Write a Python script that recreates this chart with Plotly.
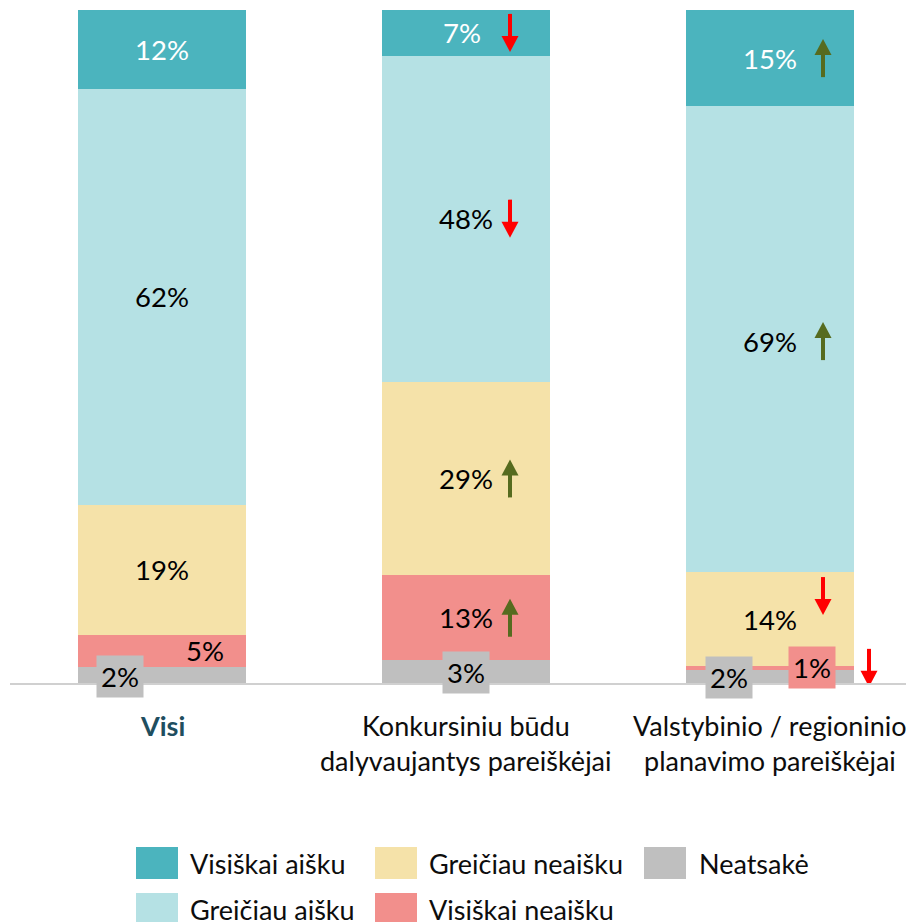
import plotly.graph_objects as go

# ---------------- data ----------------
categories = ["Visi",
              "Konkursiniu būdu\ndalyvaujantys pareiškėjai",
              "Valstybinio / regioninio\nplanavimo pareiškėjai"]

series_names = ["Neatsakė", "Visiškai neaišku", "Greičiau neaišku",
                "Greičiau aišku", "Visiškai aišku"]

neatsake = [2.4, 3.4, 2.0]
visiskai_neaisku = [4.8, 12.6, 0.5]
greiciau_neaisku = [19.3, 28.8, 14.0]
greiciau_aisku = [61.8, 48.4, 69.2]
visiskai_aisku = [11.7, 6.8, 14.3]

neatsake_lbl = ["2%", "3%", "2%"]
visiskai_neaisku_lbl = ["5%", "13%", "1%"]
greiciau_neaisku_lbl = ["19%", "29%", "14%"]
greiciau_aisku_lbl = ["62%", "48%", "69%"]
visiskai_aisku_lbl = ["12%", "7%", "15%"]

# change markers: +1 up (green), -1 down (red), 0 none
neatsake_trend = [0, 0, 0]
visiskai_neaisku_trend = [0, 1, -1]
greiciau_neaisku_trend = [0, 1, -1]
greiciau_aisku_trend = [0, -1, 1]
visiskai_aisku_trend = [0, -1, 1]

# ---------------- style ----------------
colors = ["#BFBFBF", "#F28F8C", "#F5E2A9", "#B5E1E4", "#4BB4BE"]
text_colors = ["#000000", "#000000", "#000000", "#000000", "#FFFFFF"]
UP_COLOR = "#566B1F"
DOWN_COLOR = "#FF0000"
FONT = "Lato"
FS_VAL = 27.5
FS_TXT = 27

values = [neatsake, visiskai_neaisku, greiciau_neaisku, greiciau_aisku, visiskai_aisku]
labels = [neatsake_lbl, visiskai_neaisku_lbl, greiciau_neaisku_lbl,
          greiciau_aisku_lbl, visiskai_aisku_lbl]
trends = [neatsake_trend, visiskai_neaisku_trend, greiciau_neaisku_trend,
          greiciau_aisku_trend, visiskai_aisku_trend]

# label placement tweaks (series idx, cat idx) -> (xshift, yshift, bg)
label_style = {
    (0, 0): (-42, -2, colors[0]),
    (1, 0): (43, 0, None),
    (0, 1): (0, -1, colors[0]),
    (4, 1): (-4, 0, None),
    (0, 2): (-41, -1, colors[0]),
    (1, 2): (42, 0, colors[1]),
    (3, 2): (0, -2, None),
}
arrow_dx = [0, 44, 53]
# (series, cat) -> (arrow xshift, extra yshift relative to label)
arrow_style = {(1, 2): (99, 0), (2, 2): (53, 23)}
ARROW_LEN, HEAD_LEN, HEAD_W, SHAFT_W = 38, 16, 17, 4

OFF = 8  # page body margin
W, H = 914 - OFF, 922 - OFF
ML, MR, MT, MB = 10 - OFF, 0, 10 - OFF, 239
PW = W - ML - MR
PH = H - MT - MB
SLOT = 304.0
Y_MAX = 100.0
PX_PER_Y = PH / Y_MAX

x_idx = list(range(len(categories)))

fig = go.Figure()
for s, name in enumerate(series_names):
    fig.add_trace(go.Bar(
        x=x_idx, y=values[s], name=name, marker=dict(color=colors[s], line=dict(width=0)),
        showlegend=False, hoverinfo="skip"))

annotations = []
shapes = []
for c in x_idx:
    base = 0.0
    for s in range(len(series_names)):
        v = values[s][c]
        mid = base + v / 2.0
        base += v
        dx, dy, bg = label_style.get((s, c), (0, 0, None))
        ann = dict(x=c, y=mid, xref="x", yref="y", text=labels[s][c], showarrow=False,
                   xshift=dx, yshift=dy,
                   font=dict(family=FONT, size=FS_VAL, color=text_colors[s]))
        if bg:
            ann.update(bgcolor=bg, borderpad=4)
        annotations.append(ann)
        t = trends[s][c]
        if t != 0:
            adx, ady = arrow_style.get((s, c), (arrow_dx[c], 0))
            col = UP_COLOR if t > 0 else DOWN_COLOR
            cx = c + adx / SLOT
            cy = mid + (dy + ady) / PX_PER_Y
            tip = cy + t * (ARROW_LEN / 2) / PX_PER_Y
            tail = cy - t * (ARROW_LEN / 2) / PX_PER_Y
            hb = tip - t * HEAD_LEN / PX_PER_Y
            hw = (HEAD_W / 2) / SLOT
            shapes.append(dict(type="line", xref="x", yref="y",
                               x0=cx, x1=cx, y0=tail, y1=hb + t * 1 / PX_PER_Y,
                               line=dict(color=col, width=SHAFT_W)))
            shapes.append(dict(type="path", xref="x", yref="y",
                               path=f"M {cx - hw},{hb} L {cx + hw},{hb} L {cx},{tip} Z",
                               fillcolor=col, line=dict(width=0)))

# category labels
for c, cat in enumerate(categories):
    lines = cat.split("\n")
    for i, line in enumerate(lines):
        if c == 0:
            txt = "<b>" + line + "</b>"
            col = "#1F4E5F"
        else:
            txt = line
            col = "#0D0D0D"
        annotations.append(dict(x=c, y=0, xref="x", yref="y", text=txt, showarrow=False,
                                yshift=-42 - 35 * i, yanchor="middle",
                                font=dict(family=FONT, size=FS_TXT, color=col)))

# legend (manual, large swatches); positions given in reference-page pixels
def px2x(px):
    return (px - OFF - ML) / PW

def py2y(py):
    return (MT + PH - (py - OFF)) / PH

legend_order = [4, 2, 0, 3, 1]
col_sw = [136, 375, 644]
col_tx = [188, 427, 697]
row_cy = [863, 909]
SW_W, SW_H = 42, 32
for k, s in enumerate(legend_order):
    col, row = k % 3, k // 3
    cy = row_cy[row]
    shapes.append(dict(type="rect", xref="paper", yref="paper",
                       x0=px2x(col_sw[col]), x1=px2x(col_sw[col] + SW_W),
                       y0=py2y(cy + SW_H / 2), y1=py2y(cy - SW_H / 2),
                       fillcolor=colors[s], line=dict(width=0)))
    annotations.append(dict(x=px2x(col_tx[col]), y=py2y(cy), xref="paper", yref="paper",
                            xanchor="left", yanchor="middle", showarrow=False,
                            text=series_names[s],
                            font=dict(family=FONT, size=FS_TXT, color="#0D0D0D")))

fig.update_layout(
    width=W, height=H,
    margin=dict(l=ML, r=MR, t=MT, b=MB),
    barmode="stack", bargap=0.447,
    plot_bgcolor="white", paper_bgcolor="white",
    xaxis=dict(range=[-0.5, -0.5 + PW / SLOT], showticklabels=False, ticks="",
               showgrid=False, zeroline=False, showline=True,
               linecolor="#D0D0D0", linewidth=1.5),
    yaxis=dict(range=[0, Y_MAX], visible=False, showgrid=False, zeroline=False),
    annotations=annotations, shapes=shapes,
    font=dict(family=FONT, size=FS_TXT),
)

fig.write_html("out.html")
